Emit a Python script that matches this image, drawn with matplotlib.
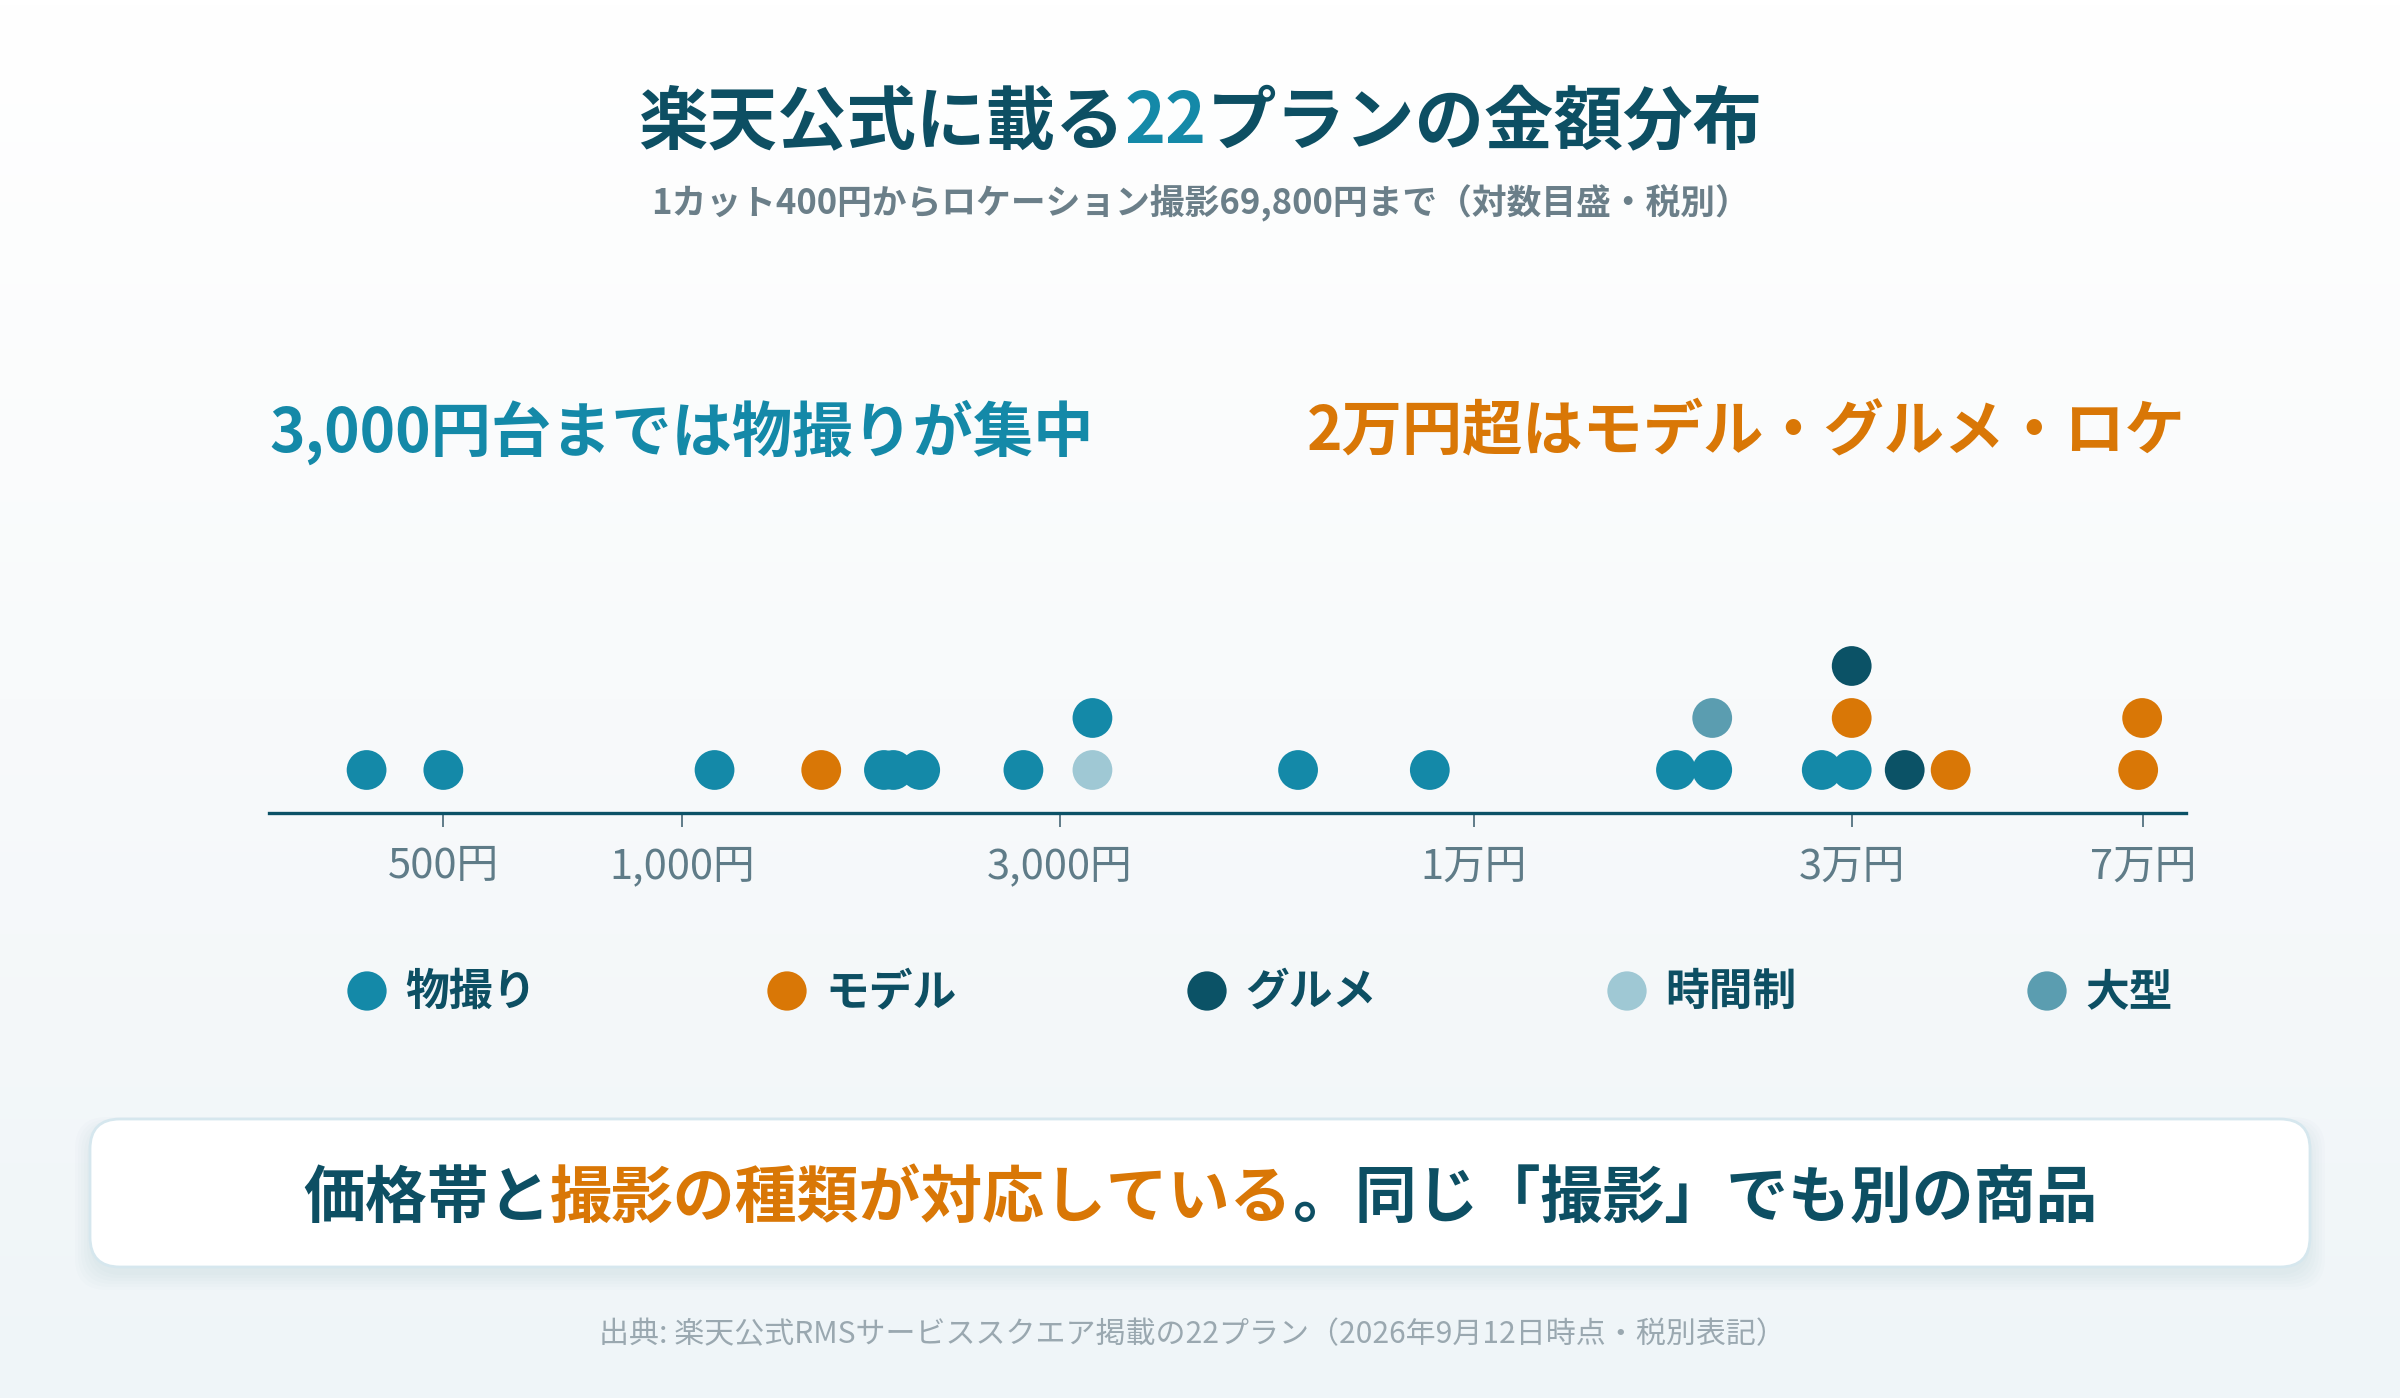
import numpy as np
import matplotlib.pyplot as plt
from matplotlib.patches import FancyBboxPatch
from matplotlib.colors import LinearSegmentedColormap
from matplotlib.ticker import NullLocator

plt.rcParams['font.family'] = ['Noto Sans CJK JP', 'DejaVu Sans']

# --- data (税別, 円) ---
prices = [400, 500, 1100, 1500, 1800, 1850, 2000, 2700, 3300, 3300, 6000, 8800,
          18000, 20000, 20000, 27500, 30000, 30000, 30000, 35000, 40000, 69000, 69800]
kinds = ['物撮り', '物撮り', '物撮り', 'モデル', '物撮り', '物撮り', '物撮り', '物撮り',
         '時間制', '物撮り', '物撮り', '物撮り', '物撮り', '物撮り', '大型', '物撮り',
         '物撮り', 'モデル', 'グルメ', 'グルメ', 'モデル', 'モデル', 'モデル']
categories = ['物撮り', 'モデル', 'グルメ', '時間制', '大型']
cat_colors = ['#1489a8', '#d97706', '#0b5266', '#9fc8d4', '#5b9db0']
tick_values = [500, 1000, 3000, 10000, 30000, 70000]
tick_labels = ['500円', '1,000円', '3,000円', '1万円', '3万円', '7万円']

DARK = '#0d4f63'
TEAL = '#1489a8'
ORANGE = '#d97706'
color_of = dict(zip(categories, cat_colors))

W, H = 2400, 1398
fig = plt.figure(figsize=(W / 100, H / 100), dpi=100)

# background layer in pixel coordinates
bg = fig.add_axes([0, 0, 1, 1])
bg.set_xlim(0, W)
bg.set_ylim(H, 0)
bg.axis('off')
grad = LinearSegmentedColormap.from_list('bg', ['#ffffff', '#f8fafb', '#eff5f8'])
bg.imshow(np.linspace(0, 1, 256).reshape(-1, 1), cmap=grad, aspect='auto',
          extent=[0, W, H, 0], zorder=0)

renderer = fig.canvas.get_renderer()


def rich_text(x, y, pieces, **kw):
    # draw coloured pieces side by side, centred on x
    arts = []
    for s, c in pieces:
        t = bg.text(0, y, s, color=c, ha='left', va='center', zorder=5, **kw)
        arts.append((t, t.get_window_extent(renderer).width))
    left = x - sum(w for _, w in arts) / 2
    for t, w in arts:
        t.set_x(left)
        left += w


# title + subtitle
rich_text(1200, 123, [('楽天公式に載る', DARK), ('22', TEAL), ('プランの金額分布', DARK)],
          fontsize=50, fontweight='bold')
bg.text(1200, 203, '1カット400円からロケーション撮影69,800円まで（対数目盛・税別）',
        ha='center', va='center', fontsize=25, fontweight='bold', color='#6b7f89')

# annotations
bg.text(269, 432, '3,000円台までは物撮りが集中', ha='left', va='center',
        fontsize=43.4, fontweight='bold', color=TEAL)
bg.text(2186, 432, '2万円超はモデル・グルメ・ロケ', ha='right', va='center',
        fontsize=43.4, fontweight='bold', color=ORANGE)

# legend
for i, (cat, col) in enumerate(zip(categories, cat_colors)):
    lx = 367 + i * 420
    bg.scatter([lx], [991], s=800, color=col, edgecolor='none', zorder=5)
    bg.text(lx + 38, 992, cat, ha='left', va='center', fontsize=31.5,
            fontweight='bold', color=DARK, zorder=5)

# bottom message box with soft shadow
for k in range(6):
    bg.add_patch(FancyBboxPatch((90 - k * 3, 1127 - k * 2), 2220 + k * 6, 148 + k * 5,
                                boxstyle='round,pad=0,rounding_size=32',
                                facecolor='#5b8fa3', edgecolor='none', alpha=0.018, zorder=2))
bg.add_patch(FancyBboxPatch((90, 1119), 2220, 148, boxstyle='round,pad=0,rounding_size=30',
                            facecolor='white', edgecolor='#d6e7ee', linewidth=2, zorder=3))
rich_text(1200, 1198, [('価格帯と', DARK), ('撮影の種類が対応している', ORANGE),
                       ('。同じ「撮影」でも別の商品', DARK)],
          fontsize=44.6, fontweight='bold')

# source
bg.text(1192, 1335, '出典: 楽天公式RMSサービススクエア掲載の22プラン（2026年9月12日時点・税別表記）',
        ha='center', va='center', fontsize=21.6, color='#9aa8b0')

# --- dot plot on log axis ---
ax = fig.add_axes([269 / W, (H - 813) / H, (2186 - 269) / W, 260 / H])
ax.set_facecolor('none')
ax.set_xscale('log')
ax.set_xlim(301.2, 79290)
ax.set_ylim(0, 5)

logp = np.log10(prices)
levels = []
for i in range(len(prices)):
    levels.append(int(np.sum(np.abs(logp[:i] - logp[i]) < 0.006)))
y = 0.827 + np.array(levels)
ax.scatter(prices, y, s=820, c=[color_of[k] for k in kinds], edgecolor='none',
           zorder=3, clip_on=False)

for side in ['top', 'left', 'right']:
    ax.spines[side].set_visible(False)
ax.spines['bottom'].set_color('#0b5266')
ax.spines['bottom'].set_linewidth(2.4)
ax.set_yticks([])
ax.set_xticks(tick_values)
ax.set_xticklabels(tick_labels)
ax.xaxis.set_minor_locator(NullLocator())
ax.tick_params(axis='x', length=10, width=1.4, color='#5f7c88', pad=14,
               labelsize=30, labelcolor='#5f7c88')

fig.savefig('out.png', dpi=100)
